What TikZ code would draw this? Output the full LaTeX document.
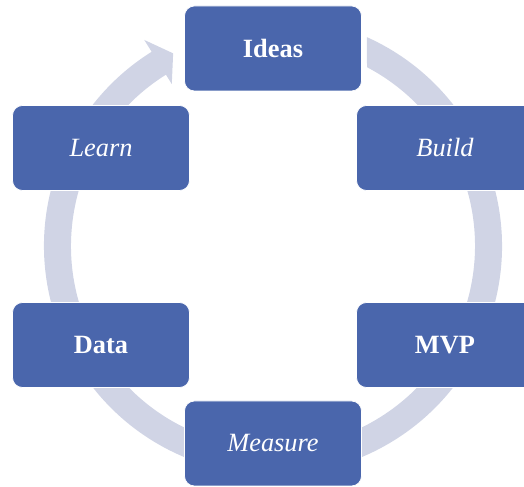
\documentclass[tikz,border=0pt]{standalone}
\usepackage{fontspec}
\setmainfont{Liberation Serif}
\definecolor{boxblue}{RGB}{74,102,172}
\definecolor{ringgray}{RGB}{208,212,229}
\tikzset{
    stage/.style={draw=white,fill=boxblue,rounded corners=0.2cm,minimum width=3.54cm,minimum height=1.7cm,text=white,font=\fontsize{15}{18}\selectfont},
    ring/.style={fill=ringgray}
}
\begin{document}
\begin{tikzpicture}
        \useasboundingbox (-5.46,-4.82) rectangle (5.02,4.92);
        \fill[ring] (65.8:4.58) arc[start angle=65.8,end angle=-238,radius=4.58]
            -- (122:4.86) -- (117.4:4.34) -- (122:3.82) -- (122:4.04)
            arc[start angle=-238,end angle=62.26,radius=4.04] -- cycle;

        \node[stage] (ideas) at (0,3.95){\textbf{Ideas}};
        \node[stage] (build) at (3.44,1.96){\textit{Build}};
        \node[stage] (mvp) at (3.44,-1.98){\textbf{MVP}};
        \node[stage] (measure) at (0,-3.95){\textit{Measure}};
        \node[stage] (data) at (-3.44,-1.98){\textbf{Data}};
        \node[stage] (learn) at (-3.44,1.96){\textit{Learn}};
    \end{tikzpicture}
\end{document}
